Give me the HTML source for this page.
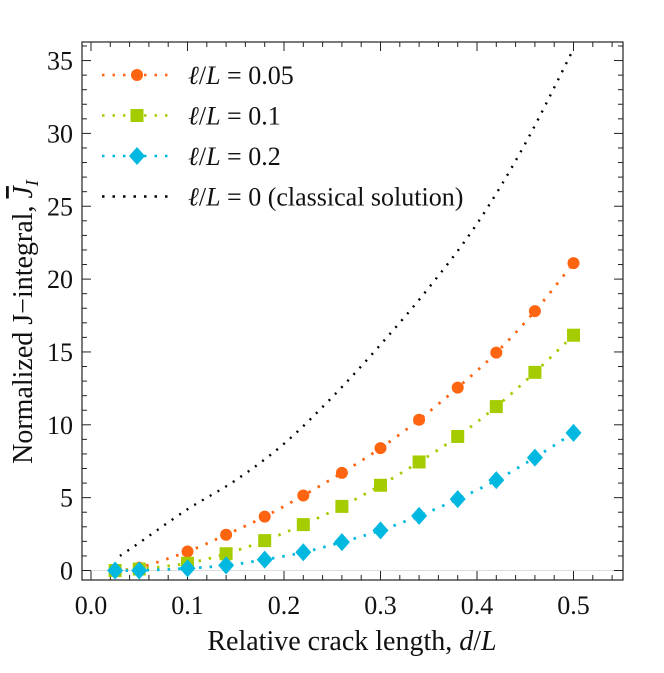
<!DOCTYPE html>
<html><head><meta charset="utf-8"><style>
body{margin:0;background:#fff;}
text, tspan{font-family:"Liberation Serif", "DejaVu Serif", serif !important;}
</style></head><body>
<svg id="chart" width="664" height="668" xmlns="http://www.w3.org/2000/svg" style="font-family:'Liberation Serif',serif"></svg>
<script>
const xs = [0.025,0.05,0.1,0.14,0.18,0.22,0.26,0.3,0.34,0.38,0.42,0.46,0.5];
const seriesA = [0.05,0.2,1.3,2.45,3.7,5.15,6.7,8.4,10.35,12.55,14.95,17.8,21.1];
const seriesB = [0,0.1,0.5,1.15,2.05,3.15,4.4,5.85,7.45,9.2,11.25,13.6,16.15];
const seriesC = [0,0,0.15,0.35,0.75,1.25,1.95,2.75,3.75,4.9,6.2,7.75,9.45];
const classicX = [0.03,0.05,0.1,0.15,0.2,0.25,0.3,0.35,0.4,0.45,0.5];
const classicY = [1.0,1.9,4.2,6.2,8.7,11.9,15.5,19.4,23.8,29.3,35.8];
const xTicks = [0.0,0.1,0.2,0.3,0.4,0.5];
const xTickLabels = ["0.0","0.1","0.2","0.3","0.4","0.5"];
const yTicks = [0,5,10,15,20,25,30,35];
const yTickLabels = ["0","5","10","15","20","25","30","35"];

const svg = document.getElementById('chart');
const NS = 'http://www.w3.org/2000/svg';
const L=82,R=623,T=42,B=580;
const sx = v => 91 + v*965;
const sy = v => 570.5 - v*14.57;
function mk(tag, attrs, parent){const e=document.createElementNS(NS,tag);for(const k in attrs)e.setAttribute(k,attrs[k]);if(tag==='text')e.setAttribute('style',"font-family:'Liberation Serif',serif");(parent||svg).appendChild(e);return e;}

const zl = mk('line',{x1:L,x2:R,y1:sy(0),y2:sy(0),stroke:'#ddd','stroke-width':1});



const tg = mk('g',{stroke:'#222','stroke-width':1});


for(let i=0;i<=27;i++){const v=i*0.02; const x=sx(v); if(x<L||x>R) continue; const major=Math.abs(v*10-Math.round(v*10))<1e-6; const len=major?9:5;
 mk('line',{x1:x,x2:x,y1:B,y2:B-len},tg); mk('line',{x1:x,x2:x,y1:T,y2:T+len},tg);}
for(let v=0;v<=36;v++){const y=sy(v); if(y<T) continue; const len=v%5===0?9:5;
 mk('line',{x1:L,x2:L+len,y1:y,y2:y},tg); mk('line',{x1:R,x2:R-len,y1:y,y2:y},tg);}

xTicks.forEach((v,i)=>{const t=mk('text',{x:sx(v),y:614,'text-anchor':'middle','font-size':26,fill:'#111'});t.textContent=xTickLabels[i];
 
 });
yTicks.forEach((v,i)=>{const t=mk('text',{x:73,y:sy(v)+9,'text-anchor':'end','font-size':26,fill:'#111'});t.textContent=yTickLabels[i];
 
 });

const fr = mk('rect',{x:L,y:T,width:R-L,height:B-T,fill:'none',stroke:'#222','stroke-width':1.2});



function smooth(X,Y){let d='M'+sx(X[0])+','+sy(Y[0]);for(let i=0;i<X.length-1;i++){const p0=[sx(X[Math.max(0,i-1)]),sy(Y[Math.max(0,i-1)])],p1=[sx(X[i]),sy(Y[i])],p2=[sx(X[i+1]),sy(Y[i+1])],p3=[sx(X[Math.min(X.length-1,i+2)]),sy(Y[Math.min(X.length-1,i+2)])];
 d+=` C${p1[0]+(p2[0]-p0[0])/6},${p1[1]+(p2[1]-p0[1])/6} ${p2[0]-(p3[0]-p1[0])/6},${p2[1]-(p3[1]-p1[1])/6} ${p2[0]},${p2[1]}`;}return d;}

const cl = mk('path',{d:smooth(classicX,classicY),fill:'none',stroke:'#000','stroke-width':2.4,'stroke-dasharray':'2 7'});



const cfg=[[seriesA,'#ff6410','circle','series-l005'],[seriesB,'#a4cc00','square','series-l01'],[seriesC,'#00b8e0','diamond','series-l02']];
function marker(kind,x,y,col,g){
 if(kind==='circle') return mk('circle',{cx:x,cy:y,r:6,fill:col},g);
 if(kind==='square') return mk('rect',{x:x-6.5,y:y-6.5,width:13,height:13,fill:col},g);
 return mk('polygon',{points:`${x},${y-9} ${x+8},${y} ${x},${y+9} ${x-8},${y}`,fill:col},g);
}
cfg.forEach(([ys,col,kind,name])=>{
 const g=mk('g',{});
 
 
 mk('path',{d:smooth(xs,ys),fill:'none',stroke:col,'stroke-width':2.8,'stroke-dasharray':'2.5 8'},g);
 xs.forEach((x,i)=>{const m=marker(kind,sx(x),sy(ys[i]),col,g);
  
  });
});

const legend=[['#ff6410','circle','0.05'],['#a4cc00','square','0.1'],['#00b8e0','diamond','0.2'],['#000',null,'0 (classical solution)']];
legend.forEach(([col,kind,lab],i)=>{
 const y=75+i*40.5;
 const g=mk('g',{});
 
 
 mk('line',{x1:102,x2:172,y1:y,y2:y,stroke:col,'stroke-width':2.6,'stroke-dasharray':'2.5 8'},g);
 if(kind){marker(kind,137,y,col,g);}
 const t=mk('text',{x:188,y:y+9,'font-size':26,fill:'#111'},g);
 t.innerHTML='<tspan font-style="italic">ℓ</tspan>/<tspan font-style="italic">L</tspan> = '+lab;
});

const xl=mk('text',{x:352,y:650,'text-anchor':'middle','font-size':28,fill:'#111'});
xl.innerHTML='Relative crack length, <tspan font-style="italic">d</tspan>/<tspan font-style="italic">L</tspan>';


const yl=mk('text',{x:0,y:0,'text-anchor':'middle','font-size':28,fill:'#111',transform:'translate(32,322) rotate(-90)'});
yl.innerHTML='Normalized J−integral, <tspan font-style="italic" text-decoration="overline">J</tspan><tspan font-style="italic" font-size="18" dy="6">I</tspan>';


</script>
</body></html>
